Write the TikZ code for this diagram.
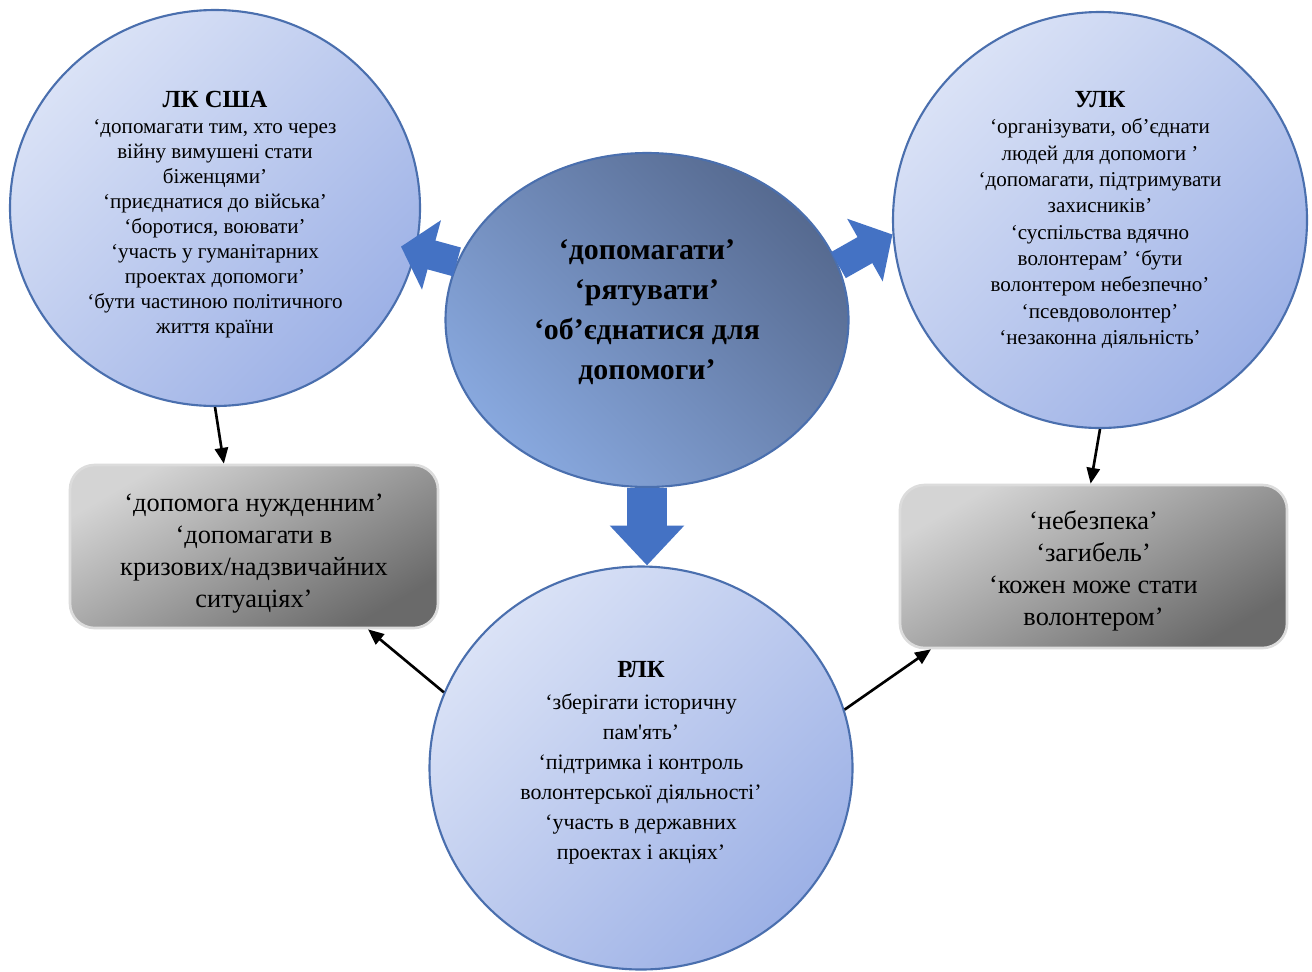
\documentclass[tikz,border=0pt]{standalone}
\usepackage{fontspec}
\setmainfont{Liberation Serif}
\usetikzlibrary{shapes.geometric,arrows.meta,positioning}

\definecolor{circlelight}{HTML}{DAE2F6}
\definecolor{circledark}{HTML}{9DB1E6}
\definecolor{centrelight}{HTML}{88A8DE}
\definecolor{centredark}{HTML}{566A90}
\definecolor{rimblue}{HTML}{4A6FAE}
\definecolor{arrowblue}{HTML}{4472C4}
\definecolor{boxlight}{HTML}{D4D4D4}
\definecolor{boxdark}{HTML}{6A6A6A}
\definecolor{boxrim}{HTML}{DCDCDC}

\tikzset{
  bubble/.style={ellipse, draw=rimblue, line width=1.2pt, inner sep=0pt, align=center,
    top color=circlelight, bottom color=circledark, shading angle=45},
  core/.style={ellipse, draw=rimblue, line width=1.2pt, inner sep=0pt, align=center,
    top color=centredark, bottom color=centrelight, shading angle=-45,
    font=\bfseries\fontsize{17}{22.7}\selectfont},
  greybox/.style={rectangle, rounded corners=14pt, draw=boxrim, line width=1.5pt,
    inner sep=0pt, align=center, top color=boxlight, bottom color=boxdark,
    shading angle=30, minimum height=3.26cm, font=\fontsize{15}{18.2}\selectfont},
  bigarrow/.style={arrowblue, line width=17pt, -{Triangle[length=18pt,width=40pt]}},
  link/.style={black, line width=1.5pt, -{Triangle[length=9pt,width=7.5pt]}}
}

\begin{document}
\begin{tikzpicture}
    \fill[white] (0,0) rectangle (26.24,-19.42);
    \useasboundingbox (0,0) rectangle (26.24,-19.42);
    % Nodes
    \node[bubble, minimum width=8.2cm, minimum height=7.92cm,
      font=\fontsize{12}{14.2}\selectfont] (lkusa) at (4.30,-4.16)
      {\rule{0pt}{16.5pt}{\bfseries\fontsize{14}{16}\selectfont ЛК США}\\[1pt]
       ‘допомагати тим, хто через\\ війну вимушені стати\\ біженцями’\\
       ‘приєднатися до війська’\\ ‘боротися, воювати’\\
       ‘участь у гуманітарних\\ проектах допомоги’\\
       ‘бути частиною політичного\\ життя країни};
    \node[bubble, minimum width=8.28cm, minimum height=8.32cm,
      font=\fontsize{12}{15}\selectfont] (ulk) at (22.00,-4.40)
      {{\bfseries\fontsize{14}{16}\selectfont УЛК}\\
       ‘організувати, об’єднати\\ людей для допомоги ’\\
       ‘допомагати, підтримувати\\ захисників’\\
       ‘суспільства вдячно\\ волонтерам’ ‘бути\\ волонтером небезпечно’\\
       ‘псевдоволонтер’\\ ‘незаконна діяльність’};
    \node[core, minimum width=8.06cm, minimum height=6.68cm] (centre) at (12.94,-6.40)
      {‘допомагати’\\ ‘рятувати’\\ ‘об’єднатися для\\ допомоги’\rule[-12pt]{0pt}{0pt}};
    \node[bubble, minimum width=8.46cm, minimum height=8.06cm,
      font=\fontsize{12.5}{17}\selectfont] (rlk) at (12.82,-15.36)
      {{\bfseries\fontsize{14}{17}\selectfont РЛК}\\[1.5pt]
       ‘зберігати історичну\\ пам\textquotesingle ять’\\
       ‘підтримка і контроль\\ волонтерської діяльності’\\
       ‘участь в державних\\ проектах і акціях’\rule[-9pt]{0pt}{0pt}};
    \node[greybox, minimum width=7.36cm] (needbox) at (5.08,-10.93)
      {\rule{0pt}{18.5pt}‘допомога нужденним’\\ ‘допомагати в\\ кризових/надзвичайних\\ ситуаціях’};
    \node[greybox, minimum width=7.74cm] (dangerbox) at (21.87,-11.33)
      {\rule{0pt}{16pt}‘небезпека’\\ ‘загибель’\\ ‘кожен може стати\\ волонтером’};
    % Connection
    \draw[bigarrow, shorten >=-9pt] (centre.163) -- (lkusa.348);
    \draw[bigarrow] (centre.16) -- (ulk.184);
    \draw[arrowblue, line width=22.7pt, -{Triangle[length=22.7pt,width=41pt]}]
      (centre.south) -- (centre.south |- rlk.north);
    \draw[link] (lkusa.south) -- (needbox.110);
    \draw[link] (ulk.south) -- (dangerbox.92);
    \draw[link] (rlk.159) -- (needbox.-36);
    \draw[link] (rlk.16) -- (dangerbox.207);
\end{tikzpicture}
\end{document}
